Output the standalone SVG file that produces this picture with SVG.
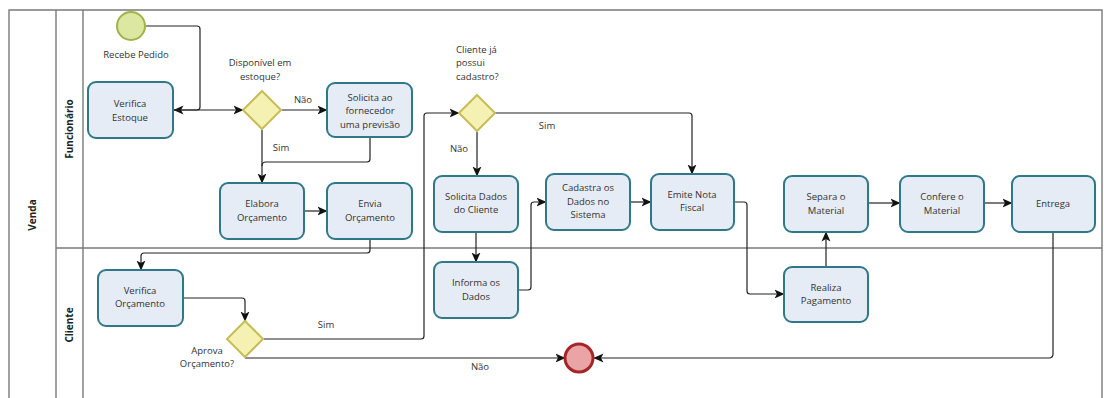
<svg xmlns="http://www.w3.org/2000/svg" width="1104" height="398" viewBox="0 0 1104 398">
  <style>
    .pool { fill: none; stroke: #7a7a7a; stroke-width: 1.4; }
    .task rect { fill: #e6ecf5; stroke: #2f7888; stroke-width: 2; }
    .gw polygon { fill: #f5f1b3; stroke: #c6bd58; stroke-width: 2; }
    text { font-family: "Open Sans", "Liberation Sans", sans-serif; font-size: 9.5px; fill: #333; text-anchor: middle; }
    .lane { font-weight: bold; font-size: 10px; fill: #222; }
    .lbl { fill: #333; }
    .flow { fill: none; stroke: #222; stroke-width: 1.2; stroke-linejoin: round; }
  </style>
  <defs>
    <marker id="arr" viewBox="0 0 10 10" refX="9.5" refY="5" markerWidth="10" markerHeight="10" markerUnits="userSpaceOnUse" orient="auto">
      <path d="M0,0.5 L10,5 L0,9.5 L2.5,5 Z" fill="#111"/>
    </marker>
  </defs>

  <rect width="1104" height="398" fill="#fff"/>

  <!-- pool and lanes -->
  <g id="pool">
    <path class="pool" d="M9,398 V10 H1102 V398"/>
    <line class="pool" x1="56" y1="10" x2="56" y2="398"/>
    <line class="pool" x1="83" y1="10" x2="83" y2="398"/>
    <line class="pool" x1="56" y1="248" x2="1102" y2="248"/>
    <text class="lane" transform="translate(36,215) rotate(-90)">Venda</text>
    <text class="lane" transform="translate(73,129) rotate(-90)">Funcionário</text>
    <text class="lane" transform="translate(73,325) rotate(-90)">Cliente</text>
  </g>

  <!-- connectors -->
  <g id="connectors">
    <path class="flow" d="M146,26 H197 Q200,26 200,29 V107 Q200,110 197,110 H174" marker-end="url(#arr)"/>
    <path class="flow" d="M173,110 H243" marker-end="url(#arr)"/>
    <path class="flow" d="M282,110 H327" marker-end="url(#arr)"/>
    <path class="flow" d="M262,130 V183" marker-end="url(#arr)"/>
    <path class="flow" d="M370,137 V159 Q370,162 367,162 H266 Q262,162 262,166"/>
    <path class="flow" d="M304,211 H327" marker-end="url(#arr)"/>
    <path class="flow" d="M370,239 V250 Q370,253 367,253 H144 Q141,253 141,256 V270" marker-end="url(#arr)"/>
    <path class="flow" d="M183,298 H242 Q245,298 245,301 V321" marker-end="url(#arr)"/>
    <path class="flow" d="M264,339 H421 Q424,339 424,336 V116 Q424,113 427,113 H459" marker-end="url(#arr)"/>
    <path class="flow" d="M245,358 H565" marker-end="url(#arr)"/>
    <path class="flow" d="M495,113 H689 Q692,113 692,116 V174" marker-end="url(#arr)"/>
    <path class="flow" d="M477,132 V176" marker-end="url(#arr)"/>
    <path class="flow" d="M476,232 V262" marker-end="url(#arr)"/>
    <path class="flow" d="M518,290 H528 Q531,290 531,287 V205 Q531,202 534,202 H546" marker-end="url(#arr)"/>
    <path class="flow" d="M630,202 H651" marker-end="url(#arr)"/>
    <path class="flow" d="M734,202 H744 Q747,202 747,205 V291 Q747,294 750,294 H784" marker-end="url(#arr)"/>
    <path class="flow" d="M826,267 V232" marker-end="url(#arr)"/>
    <path class="flow" d="M868,203 H900" marker-end="url(#arr)"/>
    <path class="flow" d="M984,203 H1012" marker-end="url(#arr)"/>
    <path class="flow" d="M1053,232 V354 Q1053,358 1049,358 H594" marker-end="url(#arr)"/>
    <text class="lbl" x="303" y="103">Não</text>
    <text class="lbl" x="281" y="151">Sim</text>
    <text class="lbl" x="547" y="129">Sim</text>
    <text class="lbl" x="459" y="152">Não</text>
    <text class="lbl" x="326" y="328">Sim</text>
    <text class="lbl" x="480" y="370">Não</text>
  </g>

  <!-- events -->
  <g id="start">
    <circle cx="131" cy="26" r="14" fill="#dce7a1" stroke="#a2b14a" stroke-width="2"/>
    <text x="136" y="58">Recebe Pedido</text>
  </g>
  <g id="end">
    <circle cx="579" cy="358" r="14" fill="#eba4a6" stroke="#a3272a" stroke-width="3"/>
  </g>

  <!-- gateways -->
  <g id="gw-estoque" class="gw">
    <polygon points="262,91 281,110 262,129 243,110"/>
    <text x="260" y="66">Disponível em</text>
    <text x="260" y="80">estoque?</text>
  </g>
  <g id="gw-cadastro" class="gw">
    <polygon points="477,95 495,113 477,131 459,113"/>
    <text x="456" y="53" style="text-anchor:start">Cliente já</text>
    <text x="456" y="66" style="text-anchor:start">possui</text>
    <text x="456" y="80" style="text-anchor:start">cadastro?</text>
  </g>
  <g id="gw-aprova" class="gw">
    <polygon points="245,321 263,339 245,357 227,339"/>
    <text x="207" y="354">Aprova</text>
    <text x="207" y="367">Orçamento?</text>
  </g>

  <!-- tasks -->
  <g id="verifica-estoque" class="task">
    <rect x="88" y="82" width="85" height="56" rx="8"/>
    <text x="130" y="107">Verifica</text>
    <text x="130" y="121">Estoque</text>
  </g>
  <g id="solicita-fornecedor" class="task">
    <rect x="327" y="83" width="85" height="54" rx="8"/>
    <text x="370" y="101">Solicita ao</text>
    <text x="370" y="114">fornecedor</text>
    <text x="370" y="128">uma previsão</text>
  </g>
  <g id="elabora-orcamento" class="task">
    <rect x="220" y="183" width="84" height="56" rx="8"/>
    <text x="262" y="207">Elabora</text>
    <text x="262" y="221">Orçamento</text>
  </g>
  <g id="envia-orcamento" class="task">
    <rect x="327" y="183" width="85" height="56" rx="8"/>
    <text x="370" y="207">Envia</text>
    <text x="370" y="221">Orçamento</text>
  </g>
  <g id="verifica-orcamento" class="task">
    <rect x="98" y="270" width="85" height="56" rx="8"/>
    <text x="140" y="294">Verifica</text>
    <text x="140" y="307">Orçamento</text>
  </g>
  <g id="solicita-dados" class="task">
    <rect x="434" y="176" width="84" height="56" rx="8"/>
    <text x="476" y="200">Solicita Dados</text>
    <text x="476" y="213">do Cliente</text>
  </g>
  <g id="informa-dados" class="task">
    <rect x="434" y="262" width="84" height="56" rx="8"/>
    <text x="476" y="286">Informa os</text>
    <text x="476" y="300">Dados</text>
  </g>
  <g id="cadastra-dados" class="task">
    <rect x="546" y="174" width="84" height="56" rx="8"/>
    <text x="588" y="191">Cadastra os</text>
    <text x="588" y="205">Dados no</text>
    <text x="588" y="218">Sistema</text>
  </g>
  <g id="emite-nota" class="task">
    <rect x="651" y="174" width="83" height="56" rx="8"/>
    <text x="692" y="198">Emite Nota</text>
    <text x="692" y="211">Fiscal</text>
  </g>
  <g id="realiza-pagamento" class="task">
    <rect x="784" y="267" width="84" height="55" rx="8"/>
    <text x="826" y="291">Realiza</text>
    <text x="826" y="304">Pagamento</text>
  </g>
  <g id="separa-material" class="task">
    <rect x="784" y="176" width="84" height="56" rx="8"/>
    <text x="826" y="200">Separa o</text>
    <text x="826" y="214">Material</text>
  </g>
  <g id="confere-material" class="task">
    <rect x="900" y="176" width="84" height="56" rx="8"/>
    <text x="942" y="200">Confere o</text>
    <text x="942" y="214">Material</text>
  </g>
  <g id="entrega" class="task">
    <rect x="1012" y="176" width="83" height="56" rx="8"/>
    <text x="1053" y="207">Entrega</text>
  </g>
</svg>
